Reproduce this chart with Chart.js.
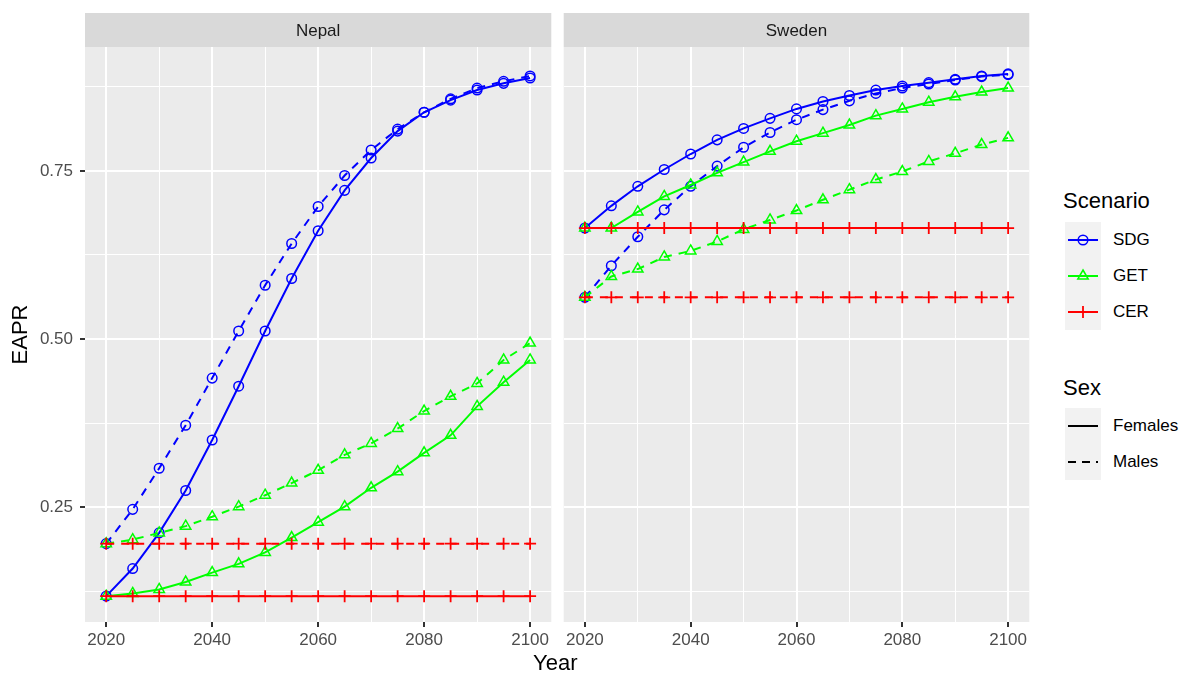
<!DOCTYPE html>
<html>
<head>
<meta charset="utf-8">
<title>EAPR by scenario - Nepal and Sweden</title>
<script src="https://cdn.jsdelivr.net/npm/chart.js@4/dist/chart.umd.min.js"></script>
<style>
  body { margin: 0; background: #fff; font-family: "Liberation Sans", Arial, sans-serif; }
  #wrap { position: relative; width: 1186px; height: 675px; overflow: hidden; }
  canvas { position: absolute; top: 0; }
  #nepal { left: 0; }
  #sweden { left: 563px; }
  .title { position: absolute; color: #000; font-size: 22px; line-height: 26px; white-space: nowrap; }
  .key { position: absolute; left: 1065px; width: 36px; height: 36px; background: #F2F2F2; }
  .key svg { display: block; }
  .lab { position: absolute; left: 1113px; font-size: 17px; line-height: 20px; color: #000; }
</style>
</head>
<body>
<div id="wrap">
  <canvas id="nepal" width="552" height="675"></canvas>
  <canvas id="sweden" width="467" height="675"></canvas>
  <div class="title" style="left:533px; top:650px;">Year</div>

  <div class="title" style="left:1063px; top:188px;">Scenario</div>
  <div class="key" style="top:222px"><svg width="36" height="36"><line x1="3" y1="18" x2="33" y2="18" stroke="#0000FF" stroke-width="2"/><circle cx="18" cy="18" r="4.8" fill="none" stroke="#0000FF" stroke-width="1.5"/></svg></div>
  <div class="key" style="top:258px"><svg width="36" height="36"><line x1="3" y1="18" x2="33" y2="18" stroke="#00FF00" stroke-width="2"/><polygon points="18,12 23.2,21 12.8,21" fill="none" stroke="#00FF00" stroke-width="1.5"/></svg></div>
  <div class="key" style="top:294px"><svg width="36" height="36"><line x1="3" y1="18" x2="33" y2="18" stroke="#FF0000" stroke-width="2"/><line x1="18" y1="12" x2="18" y2="24" stroke="#FF0000" stroke-width="1.8"/><line x1="12" y1="18" x2="24" y2="18" stroke="#FF0000" stroke-width="1.8"/></svg></div>
  <div class="lab" style="top:230px">SDG</div>
  <div class="lab" style="top:266px">GET</div>
  <div class="lab" style="top:302px">CER</div>

  <div class="title" style="left:1063px; top:375px;">Sex</div>
  <div class="key" style="top:408px"><svg width="36" height="36"><line x1="3" y1="18" x2="33" y2="18" stroke="#000" stroke-width="2"/></svg></div>
  <div class="key" style="top:444px"><svg width="36" height="36"><line x1="3" y1="18" x2="33" y2="18" stroke="#000" stroke-width="2" stroke-dasharray="8,6"/></svg></div>
  <div class="lab" style="top:416px">Females</div>
  <div class="lab" style="top:452px">Males</div>
</div>

<script>
// Data
const years = [2020, 2025, 2030, 2035, 2040, 2045, 2050, 2055, 2060, 2065, 2070, 2075, 2080, 2085, 2090, 2095, 2100];

const nepalSdgF = [0.118, 0.159, 0.212, 0.275, 0.350, 0.430, 0.512, 0.590, 0.661, 0.721, 0.769, 0.809, 0.837, 0.855, 0.870, 0.880, 0.888];
const nepalSdgM = [0.196, 0.247, 0.308, 0.372, 0.442, 0.512, 0.580, 0.642, 0.697, 0.743, 0.781, 0.812, 0.837, 0.857, 0.873, 0.883, 0.891];
const nepalGetF = [0.118, 0.122, 0.128, 0.139, 0.153, 0.166, 0.183, 0.205, 0.228, 0.251, 0.279, 0.303, 0.331, 0.357, 0.400, 0.436, 0.469];
const nepalGetM = [0.196, 0.202, 0.212, 0.222, 0.236, 0.251, 0.268, 0.286, 0.305, 0.328, 0.345, 0.367, 0.393, 0.415, 0.434, 0.469, 0.494];
const nepalCerF = [0.118, 0.118, 0.118, 0.118, 0.118, 0.118, 0.118, 0.118, 0.118, 0.118, 0.118, 0.118, 0.118, 0.118, 0.118, 0.118, 0.118];
const nepalCerM = [0.196, 0.196, 0.196, 0.196, 0.196, 0.196, 0.196, 0.196, 0.196, 0.196, 0.196, 0.196, 0.196, 0.196, 0.196, 0.196, 0.196];

const swedenSdgF = [0.665, 0.698, 0.727, 0.752, 0.775, 0.796, 0.813, 0.828, 0.842, 0.853, 0.862, 0.870, 0.876, 0.881, 0.886, 0.891, 0.894];
const swedenSdgM = [0.562, 0.609, 0.652, 0.692, 0.727, 0.757, 0.785, 0.807, 0.826, 0.841, 0.854, 0.865, 0.873, 0.879, 0.885, 0.890, 0.893];
const swedenGetF = [0.665, 0.665, 0.689, 0.712, 0.729, 0.747, 0.763, 0.779, 0.794, 0.806, 0.818, 0.832, 0.842, 0.852, 0.860, 0.867, 0.873];
const swedenGetM = [0.562, 0.593, 0.604, 0.622, 0.631, 0.645, 0.663, 0.677, 0.691, 0.707, 0.722, 0.737, 0.749, 0.764, 0.776, 0.789, 0.799];
const swedenCerF = [0.665, 0.665, 0.665, 0.665, 0.665, 0.665, 0.665, 0.665, 0.665, 0.665, 0.665, 0.665, 0.665, 0.665, 0.665, 0.665, 0.665];
const swedenCerM = [0.562, 0.562, 0.562, 0.562, 0.562, 0.562, 0.562, 0.562, 0.562, 0.562, 0.562, 0.562, 0.562, 0.562, 0.562, 0.562, 0.562];

// axis breaks (ggplot major + minor)
const xMajor = [2020, 2040, 2060, 2080, 2100];
const xMinor = [2030, 2050, 2070, 2090];
const yMajor = [0.25, 0.50, 0.75];
const yMinor = [0.125, 0.375, 0.625, 0.875];

const FONT = '"Liberation Sans", Arial, sans-serif';

// grey panel + facet strip, drawn before the grid
const stripPlugin = {
  id: 'strip',
  beforeDraw(chart, args, opts) {
    const { ctx, chartArea: a } = chart;
    ctx.save();
    ctx.fillStyle = '#D9D9D9';
    ctx.fillRect(a.left, 13, a.right - a.left, a.top - 13);
    ctx.fillStyle = '#EBEBEB';
    ctx.fillRect(a.left, a.top, a.right - a.left, a.bottom - a.top);
    ctx.fillStyle = '#1A1A1A';
    ctx.font = '17px ' + FONT;
    ctx.textAlign = 'center';
    ctx.textBaseline = 'middle';
    ctx.fillText(opts.text, (a.left + a.right) / 2, (13 + a.top) / 2 + 1);
    ctx.restore();
  }
};

function series(label, values, color, style, dashed, order) {
  const radius = style === 'circle' ? 4.8 : style === 'triangle' ? 6 : 6;
  return {
    label: label,
    data: years.map((yr, i) => ({ x: yr, y: values[i] })),
    borderColor: color,
    borderWidth: 2,
    borderDash: dashed ? [8, 7] : [],
    pointStyle: style,
    pointRadius: radius,
    pointBorderColor: color,
    pointBackgroundColor: 'rgba(0,0,0,0)',
    pointBorderWidth: style === 'cross' ? 1.8 : 1.5,
    tension: 0,
    order: order
  };
}

function makeChart(id, title, d, showY) {
  const ctx = document.getElementById(id).getContext('2d');
  return new Chart(ctx, {
    type: 'line',
    data: {
      datasets: [
        series('SDG Females', d.sdgF, '#0000FF', 'circle', false, 3),
        series('SDG Males', d.sdgM, '#0000FF', 'circle', true, 3),
        series('GET Females', d.getF, '#00FF00', 'triangle', false, 2),
        series('GET Males', d.getM, '#00FF00', 'triangle', true, 2),
        series('CER Females', d.cerF, '#FF0000', 'cross', false, 1),
        series('CER Males', d.cerM, '#FF0000', 'cross', true, 1)
      ]
    },
    options: {
      responsive: false,
      animation: false,
      events: [],
      layout: { autoPadding: false, padding: { top: 47, right: 0, bottom: 23, left: 0 } },
      plugins: {
        legend: { display: false },
        tooltip: { enabled: false },
        strip: { text: title }
      },
      scales: {
        x: {
          type: 'linear',
          min: 2016,
          max: 2104,
          afterBuildTicks: (scale) => {
            scale.ticks = xMajor.concat(xMinor).sort((a, b) => a - b).map(v => ({ value: v }));
          },
          afterFit: (scale) => { scale.height = 30; },
          border: { display: false },
          grid: {
            color: '#FFFFFF',
            lineWidth: (c) => (xMajor.includes(c.tick && c.tick.value) ? 2 : 1),
            tickLength: 5,
            tickWidth: 2,
            tickColor: (c) => (xMajor.includes(c.tick && c.tick.value) ? '#333333' : 'rgba(0,0,0,0)')
          },
          ticks: {
            color: '#4D4D4D',
            font: { family: FONT, size: 17 },
            padding: 3,
            maxRotation: 0,
            autoSkip: false,
            callback: (v) => (xMajor.includes(v) ? String(v) : '')
          }
        },
        y: {
          min: 0.0796,
          max: 0.934,
          afterBuildTicks: (scale) => {
            scale.ticks = yMajor.concat(yMinor).sort((a, b) => a - b).map(v => ({ value: v }));
          },
          afterFit: (scale) => { scale.width = showY ? 85 : 0; },
          border: { display: false },
          grid: {
            color: '#FFFFFF',
            lineWidth: (c) => (yMajor.includes(c.tick && c.tick.value) ? 2 : 1),
            drawTicks: showY,
            tickLength: 5,
            tickWidth: 2,
            tickColor: (c) => (yMajor.includes(c.tick && c.tick.value) ? '#333333' : 'rgba(0,0,0,0)')
          },
          ticks: {
            display: showY,
            color: '#4D4D4D',
            font: { family: FONT, size: 17 },
            padding: 7,
            autoSkip: false,
            callback: (v) => (yMajor.includes(v) ? v.toFixed(2) : '')
          },
          title: {
            display: showY,
            text: 'EAPR',
            color: '#000000',
            font: { family: FONT, size: 22 },
            padding: { top: 8, bottom: 0 }
          }
        }
      }
    },
    plugins: [stripPlugin]
  });
}

makeChart('nepal', 'Nepal', {
  sdgF: nepalSdgF, sdgM: nepalSdgM, getF: nepalGetF, getM: nepalGetM, cerF: nepalCerF, cerM: nepalCerM
}, true);

makeChart('sweden', 'Sweden', {
  sdgF: swedenSdgF, sdgM: swedenSdgM, getF: swedenGetF, getM: swedenGetM, cerF: swedenCerF, cerM: swedenCerM
}, false);
</script>
</body>
</html>
